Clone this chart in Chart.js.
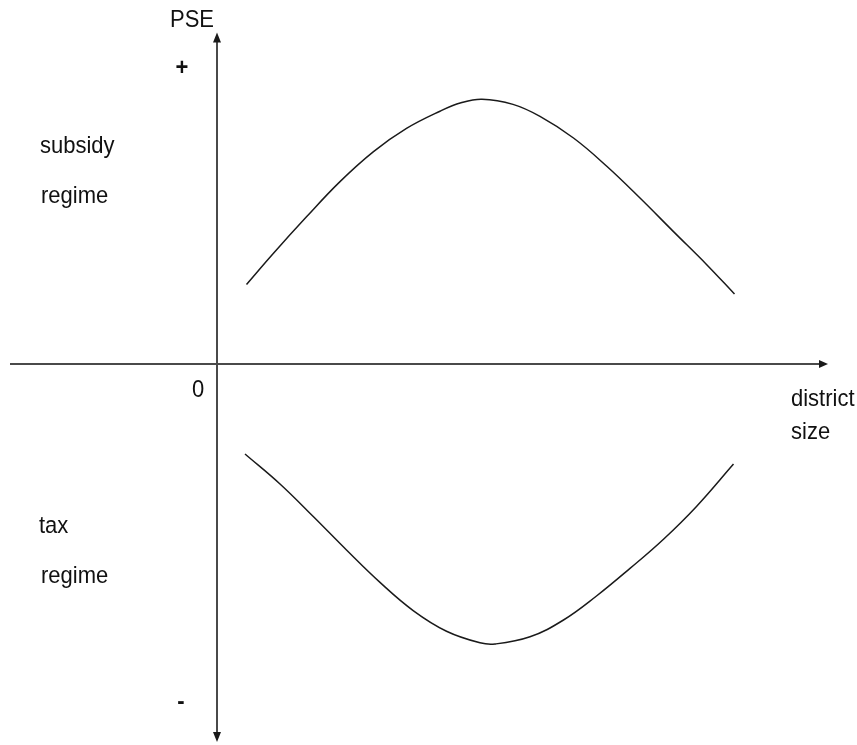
<!DOCTYPE html>
<html>
<head>
<meta charset="utf-8">
<script src="https://cdn.jsdelivr.net/npm/chart.js@4.4.1/dist/chart.umd.min.js"></script>
<style>
  body { margin: 0; background: #fff; }
  canvas { display: block; }
</style>
</head>
<body>
<canvas id="myChart" width="857" height="745"></canvas>
<script>
// district size (x) and PSE (y)
const subsidyX = [5.9, 11.3, 17.9, 24.6, 31.3, 37.9, 44.6, 48.8, 53.0, 59.2, 64.6, 71.3, 77.9, 84.6, 91.3, 97.9, 103.5];
const subsidyY = [19.9, 27.7, 36.8, 45.6, 53.1, 58.9, 63.2, 65.3, 66.2, 64.9, 61.9, 56.5, 49.5, 41.5, 33.1, 24.9, 17.5];
const taxX = [5.6, 12.6, 19.3, 25.9, 32.6, 39.3, 45.9, 52.6, 55.6, 62.6, 69.3, 75.9, 82.6, 89.3, 95.9, 103.3];
const taxY = [-22.5, -30.0, -38.2, -46.5, -54.6, -61.7, -66.8, -69.7, -70.0, -68.2, -64.0, -58.0, -51.1, -43.8, -35.6, -25.0];

// axis extents (data units)
const xAxisRange = [-41.4, 122.2];
const yAxisRange = [-94.5, 82.9];

// texts
const yTitle = 'PSE';
const xTitle = ['district', 'size'];
const upperLabel = ['subsidy', 'regime'];
const lowerLabel = ['tax', 'regime'];
const signLabels = ['+', '0', '-'];

const toPoints = (xs, ys) => xs.map((x, i) => ({ x: x, y: ys[i] }));

// draws the two axes with arrows and all the text
const axesPlugin = {
    id: 'axesPlugin',
    beforeDatasetsDraw(chart) {
        const ctx = chart.ctx;
        const xs = chart.scales.x;
        const ys = chart.scales.y;
        const ox = xs.getPixelForValue(0);
        const oy = ys.getPixelForValue(0);
        const xl = xs.getPixelForValue(xAxisRange[0]);
        const xr = xs.getPixelForValue(xAxisRange[1]);
        const yt = ys.getPixelForValue(yAxisRange[1]);
        const yb = ys.getPixelForValue(yAxisRange[0]);

        ctx.save();
        ctx.strokeStyle = '#4a4a4a';
        ctx.fillStyle = '#1a1a1a';
        ctx.lineWidth = 2;
        ctx.beginPath();
        ctx.moveTo(xl, oy);
        ctx.lineTo(xr - 6, oy);
        ctx.moveTo(ox, yt + 8);
        ctx.lineTo(ox, yb - 8);
        ctx.stroke();

        // arrow heads
        ctx.beginPath();
        ctx.moveTo(xr, oy);
        ctx.lineTo(xr - 9, oy - 4);
        ctx.lineTo(xr - 9, oy + 4);
        ctx.closePath();
        ctx.moveTo(ox, yt);
        ctx.lineTo(ox - 4, yt + 10);
        ctx.lineTo(ox + 4, yt + 10);
        ctx.closePath();
        ctx.moveTo(ox, yb);
        ctx.lineTo(ox - 4, yb - 10);
        ctx.lineTo(ox + 4, yb - 10);
        ctx.closePath();
        ctx.fill();

        // texts, slightly stretched vertically like the original
        ctx.fillStyle = '#111';
        ctx.font = '22px "Liberation Sans", Arial, sans-serif';
        const txt = (s, x, y, align) => {
            ctx.save();
            ctx.textAlign = align || 'left';
            ctx.textBaseline = 'alphabetic';
            ctx.translate(x, y);
            ctx.scale(1, 1.12);
            ctx.fillText(s, 0, 0);
            ctx.restore();
        };
        txt(yTitle, ox - 47, 27);
        txt(signLabels[1], ox - 19, 397, 'center');
        txt(xTitle[0], 791, 406);
        txt(xTitle[1], 791, 439);
        txt(upperLabel[0], 40, 153);
        txt(upperLabel[1], 41, 203);
        txt(lowerLabel[0], 39, 533);
        txt(lowerLabel[1], 41, 583);
        ctx.font = 'bold 22px "Liberation Sans", Arial, sans-serif';
        txt(signLabels[0], ox - 35, 75, 'center');
        txt(signLabels[2], ox - 36, 709, 'center');
        ctx.restore();
    }
};

const ctx = document.getElementById('myChart').getContext('2d');
window.myChart = new Chart(ctx, {
    type: 'line',
    data: {
        datasets: [{
            label: 'subsidy regime',
            data: toPoints(subsidyX, subsidyY),
            borderColor: '#1a1a1a',
            borderWidth: 1.5,
            pointRadius: 0,
            tension: 0.4,
            fill: false
        }, {
            label: 'tax regime',
            data: toPoints(taxX, taxY),
            borderColor: '#1a1a1a',
            borderWidth: 1.5,
            pointRadius: 0,
            tension: 0.4,
            fill: false
        }]
    },
    options: {
        responsive: false,
        animation: false,
        layout: { padding: 0 },
        scales: {
            x: { type: 'linear', min: -43.4, max: 128, display: false },
            y: { type: 'linear', min: -95.25, max: 91, display: false }
        },
        plugins: {
            legend: { display: false },
            tooltip: { enabled: false }
        }
    },
    plugins: [axesPlugin]
});
</script>
</body>
</html>
